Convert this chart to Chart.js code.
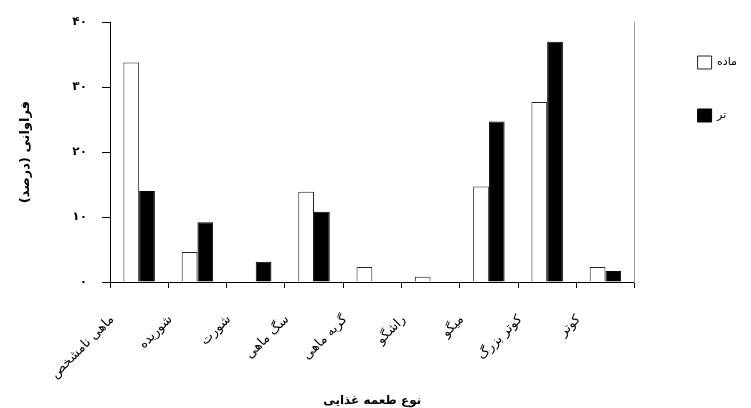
<!DOCTYPE html>
<html>
<head>
<meta charset="utf-8">
<script src="https://cdn.jsdelivr.net/npm/chart.js@4.4.1/dist/chart.umd.min.js"></script>
<style>
  html, body { margin: 0; padding: 0; background: #fff; }
</style>
</head>
<body>
<canvas id="chart" width="751" height="408"></canvas>
<script>
// prey types (x categories)
const categories = ['ماهی نامشخص', 'شوریده', 'شورت', 'سگ ماهی', 'گربه ماهی', 'راشگو', 'میگو', 'کوتر بزرگ', 'کوتر'];
const seriesNames = ['ماده', 'نر'];
// frequency (%)
const femaleValues = [33.8, 4.6, 0, 13.9, 2.3, 0.8, 14.7, 27.7, 2.3];
const maleValues = [14.0, 9.2, 3.1, 10.8, 0, 0, 24.7, 37.0, 1.7];
const yTickLabels = ['۰', '۱۰', '۲۰', '۳۰', '۴۰'];
const yTitle = 'فراوانی (درصد)';
const xTitle = 'نوع طعمه غذایی';

Chart.defaults.font.family = "'DejaVu Sans', sans-serif";
Chart.defaults.color = '#000';

new Chart(document.getElementById('chart'), {
  type: 'bar',
  data: {
    labels: categories,
    datasets: [
      {
        label: seriesNames[0],
        data: femaleValues,
        backgroundColor: '#fff',
        borderColor: '#222',
        borderWidth: 1,
      },
      {
        label: seriesNames[1],
        data: maleValues,
        backgroundColor: '#000',
        borderColor: '#000',
        borderWidth: 1,
      },
    ],
  },
  options: {
    responsive: false,
    animation: false,
    layout: { padding: { top: 16, right: 4, bottom: 0, left: 14 } },
    datasets: {
      bar: { categoryPercentage: 0.54, barPercentage: 1.0 },
    },
    plugins: {
      tooltip: { enabled: false },
      legend: {
        position: 'right',
        align: 'start',
        labels: {
          boxWidth: 14,
          boxHeight: 13,
          padding: 40,
          font: { size: 11 },
        },
      },
    },
    scales: {
      x: {
        grid: { drawOnChartArea: false, color: '#000', tickLength: 6 },
        border: { color: '#000' },
        ticks: {
          maxRotation: 45,
          minRotation: 45,
          autoSkip: false,
          padding: 24,
          labelOffset: -27,
          font: { size: 13 },
        },
        title: { display: true, text: xTitle, font: { size: 12, weight: 'bold' }, padding: { top: 0, bottom: 0 } },
        afterFit: (scale) => { scale.height = 126; },
      },
      y: {
        min: 0,
        max: 40,
        ticks: {
          stepSize: 10,
          padding: 15,
          font: { size: 12, weight: 'bold' },
          callback: (v, i) => yTickLabels[i],
        },
        grid: { drawOnChartArea: false, color: '#000', tickLength: 8 },
        border: { color: '#000' },
        title: { display: true, text: yTitle, font: { size: 13, weight: 'bold' }, padding: { bottom: 20 } },
        afterFit: (scale) => { scale.width = 96; },
      },
      yRight: {
        position: 'right',
        grid: { display: false },
        ticks: { display: false },
        border: { color: '#999' },
        afterFit: (scale) => { scale.width = scale.width + 15; },
      },
    },
  },
});
</script>
</body>
</html>
